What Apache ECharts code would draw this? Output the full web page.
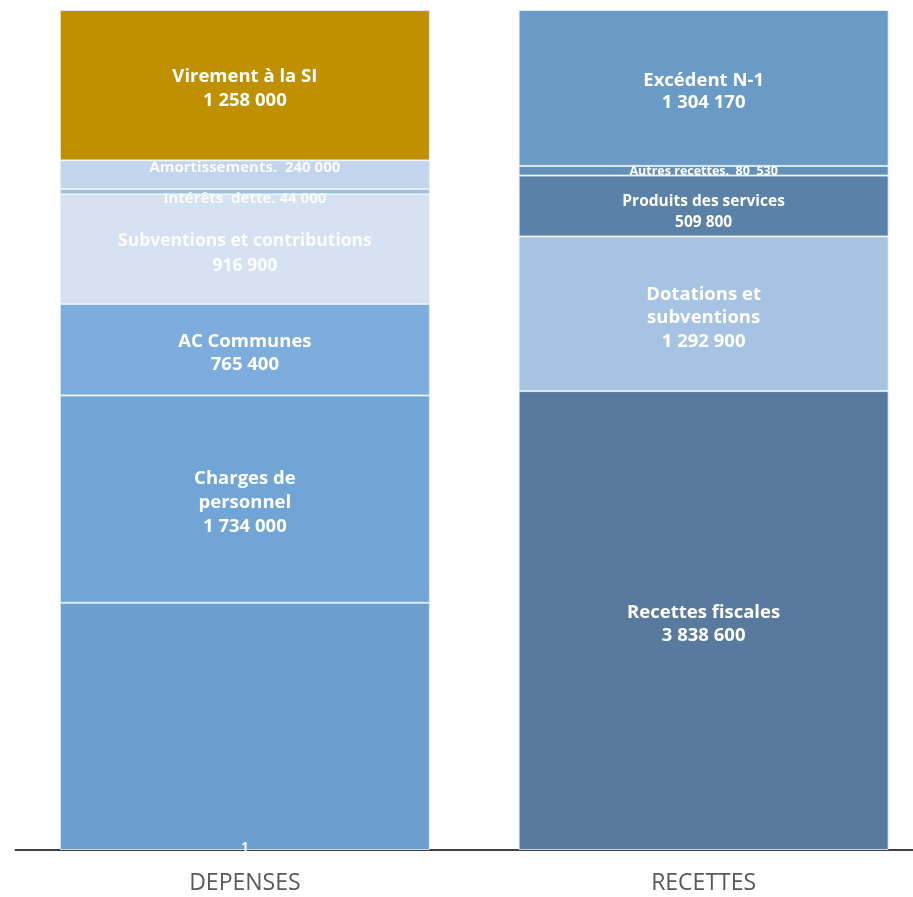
<!DOCTYPE html>
<html><head><meta charset="utf-8">
<script src="https://cdn.jsdelivr.net/npm/echarts@6/dist/echarts.min.js"></script>
<style>html,body{margin:0;padding:0;background:#fff;overflow:hidden}#c{width:933px;height:897px}</style>
</head><body><div id="c"></div>
<script>
var categories = ['DEPENSES', 'RECETTES'];
// Dépenses (bottom to top)
var depValues = [2067700, 1734000, 765400, 916900, 44000, 240000, 1258000];
var depLabels = ['1', 'Charges de\npersonnel\n1 734 000', 'AC Communes\n765 400', 'Subventions et contributions\n916 900', 'Intérêts  dette. 44 000', 'Amortissements.  240 000', 'Virement à la SI\n1 258 000'];
// Recettes (bottom to top)
var recValues = [3838600, 1292900, 509800, 80530, 1304170];
var recLabels = ['Recettes fiscales\n3 838 600', 'Dotations et\nsubventions\n1 292 900', 'Produits des services\n509 800', 'Autres recettes.  80  530', 'Excédent N-1\n1 304 170'];

var depColors = ['#6C9FCE', '#70A5D6', '#7DADDD', '#D6E2F1', '#9DBFE3', '#C3D5EC', '#BF9000'];
var recColors = ['#577A9E', '#A7C3E3', '#5A82A8', '#6390BA', '#6A9BC7'];
var depLabelStyle = [
  {position: 'insideBottom', fontSize: 12, distance: -4},
  {fontSize: 18.5, lineHeight: 24, offset: [0, 4]},
  {fontSize: 18.5, lineHeight: 23, offset: [0, 4]},
  {fontSize: 17.5, lineHeight: 25, offset: [0, 4], color: 'rgba(255,255,255,0.9)'},
  {fontSize: 15, offset: [0, 7], color: 'rgba(255,255,255,0.85)'},
  {fontSize: 15, offset: [0, -7], color: 'rgba(255,255,255,0.9)'},
  {fontSize: 18.5, lineHeight: 24, offset: [0, 4]}
];
var recLabelStyle = [
  {fontSize: 18.5, lineHeight: 23, offset: [0, 4]},
  {fontSize: 18.5, lineHeight: 23.5, offset: [0, 4]},
  {fontSize: 15.5, lineHeight: 21, offset: [0, 6]},
  {fontSize: 12.5, offset: [0, 1]},
  {fontSize: 18.5, lineHeight: 22, offset: [0, 4]}
];

var series = [];
function addSeries(values, labels, colors, styles, idx) {
  values.forEach(function (v, i) {
    var d = ['-', '-'];
    d[idx] = v;
    var st = styles[i];
    series.push({
      type: 'bar', stack: 'total', barWidth: 370,
      data: d,
      itemStyle: {color: colors[i], borderColor: 'rgba(230,240,250,0.8)', borderWidth: 1},
      label: {
        show: true,
        position: st.position || 'inside',
        distance: st.distance,
        offset: st.offset || [0, 0],
        formatter: labels[i],
        color: st.color || '#fff',
        fontFamily: '"Open Sans", sans-serif',
        fontWeight: 'bold',
        fontSize: st.fontSize,
        lineHeight: st.lineHeight,
        align: 'center'
      },
      emphasis: {disabled: true}
    });
  });
}
addSeries(depValues, depLabels, depColors, depLabelStyle, 0);
addSeries(recValues, recLabels, recColors, recLabelStyle, 1);

var chart = echarts.init(document.getElementById('c'));
chart.setOption({
  animation: false,
  backgroundColor: '#fff',
  grid: {left: 15.5, right: 0, top: 10, bottom: 47},
  xAxis: {
    type: 'category', data: categories,
    axisLine: {lineStyle: {color: '#404040', width: 2}},
    axisTick: {show: false},
    axisLabel: {color: '#595959', fontSize: 23, fontFamily: '"Open Sans", sans-serif', margin: 22}
  },
  yAxis: {type: 'value', min: 0, max: 7026000, show: false, splitLine: {show: false}},
  series: series
});
</script></body></html>
